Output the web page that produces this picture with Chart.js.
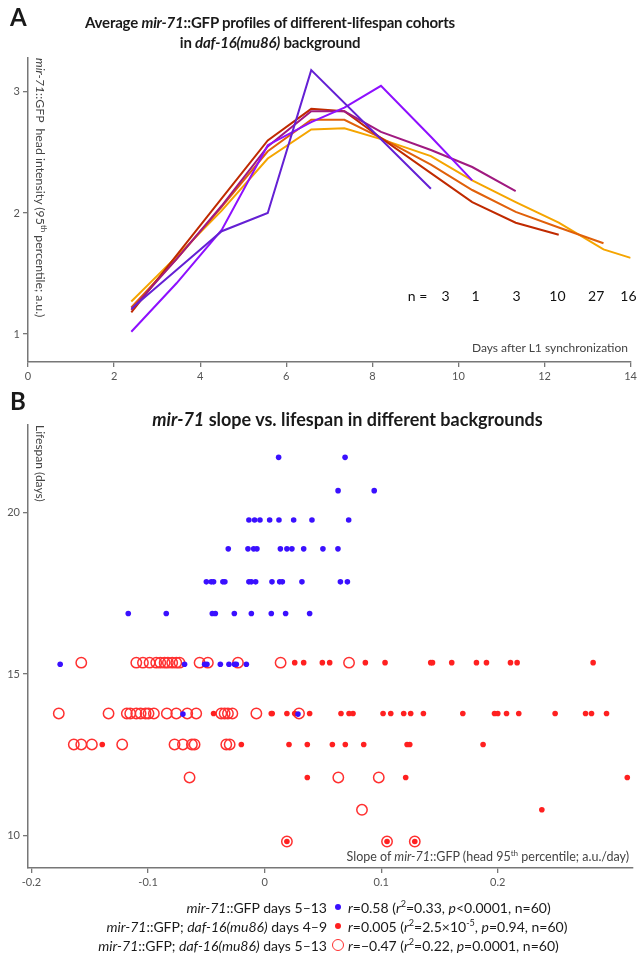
<!DOCTYPE html>
<html>
<head>
<meta charset="utf-8">
<script src="https://cdn.jsdelivr.net/npm/chart.js@4.4.1/dist/chart.umd.min.js"></script>
<style>
  body { margin: 0; width: 640px; height: 958px; background: #fff; position: relative; overflow: hidden; font-family: Lato, "Open Sans", sans-serif; color: #1a1a1a; }
  canvas { position: absolute; left: 0; }
  .t { position: absolute; white-space: nowrap; z-index: 2; }
  .panel { font-weight: 700; font-size: 24px; }
  .title { font-weight: 700; text-align: center; }
  .axt { font-size: 12px; color: #444; }
  .rot { transform: rotate(90deg); transform-origin: left top; }
  sup { font-size: 65%; line-height: 0; }
  .leg { font-size: 14px; line-height: 19px; }
  .legL { text-align: right; }
  .mk { position: absolute; z-index: 2; border-radius: 50%; box-sizing: border-box; }
</style>
</head>
<body>

<div class="t panel" style="left:10px; top:2px;">A</div>
<div class="t title" style="left:70px; width:400px; top:12px; font-size:15px; line-height:20px; letter-spacing:-0.2px;">Average <i>mir-71</i>::GFP profiles of different-lifespan cohorts<br>in <i>daf-16(mu86)</i> background</div>
<div class="t axt rot" style="left:48px; top:58px; font-size:12.3px;"><i>mir-71</i>::GFP&nbsp; head intensity (95<sup>th</sup> percentile; a.u.)</div>
<div class="t axt" style="right:12px; top:340px;">Days after L1 synchronization</div>

<div class="t panel" style="left:10px; top:386px;">B</div>
<div class="t title" style="left:140px; width:415px; top:408px; font-size:18px; line-height:22px;"><i>mir-71</i> slope vs. lifespan in different backgrounds</div>
<div class="t axt rot" style="left:48px; top:425px;">Lifespan (days)</div>
<div class="t axt" style="right:11px; top:849px; font-size:12.5px;">Slope of <i>mir-71</i>::GFP (head 95<sup>th</sup> percentile; a.u./day)</div>

<div class="t leg legL" style="right:313px; top:898px;"><i>mir-71</i>::GFP days 5–13<br><i>mir-71</i>::GFP; <i>daf-16(mu86)</i> days 4–9<br><i>mir-71</i>::GFP; <i>daf-16(mu86)</i> days 5–13</div>
<div class="mk" style="left:335px; top:904px; width:6px; height:6px; background:#3a10ff;"></div>
<div class="mk" style="left:335px; top:923px; width:6px; height:6px; background:#ff2020;"></div>
<div class="mk" style="left:332px; top:939px; width:12px; height:12px; border:1.5px solid #ff3030;"></div>
<div class="t leg" style="left:348px; top:898px;"><i>r</i>=0.58 (<i>r</i><sup>2</sup>=0.33, <i>p</i>&lt;0.0001, n=60)<br><i>r</i>=0.005 (<i>r</i><sup>2</sup>=2.5×10<sup>-5</sup>, <i>p</i>=0.94, n=60)<br><i>r</i>=−0.47 (<i>r</i><sup>2</sup>=0.22, <i>p</i>=0.0001, n=60)</div>

<canvas id="chartA" width="640" height="400" style="top:0;"></canvas>
<canvas id="chartB" width="640" height="510" style="top:390px;"></canvas>

<script>
// ---- Panel A: mean head intensity per lifespan cohort ----
const cohortN = ['3', '1', '3', '10', '27', '16'];
const cohortColors = ['#6420d4', '#8e10ff', '#a01a80', '#c02a00', '#e0600a', '#f5a500'];

const daysC1 = [2.4, 3.45, 4.5, 5.57, 6.58, 9.36];
const gfpC1  = [1.21, 1.53, 1.85, 2.00, 3.18, 2.20];
const daysC2 = [2.4, 3.45, 4.5, 5.57, 6.58, 7.35, 8.2, 9.36, 10.32];
const gfpC2  = [1.02, 1.42, 1.86, 2.56, 2.75, 2.87, 3.05, 2.63, 2.27];
const daysC3 = [2.4, 3.45, 4.5, 5.57, 6.58, 7.35, 8.2, 9.36, 10.32, 11.33];
const gfpC3  = [1.20, 1.62, 2.06, 2.55, 2.84, 2.84, 2.67, 2.52, 2.38, 2.18];
const daysC4 = [2.4, 3.45, 4.5, 5.57, 6.58, 7.35, 8.2, 9.36, 10.32, 11.33, 12.33];
const gfpC4  = [1.18, 1.65, 2.12, 2.60, 2.86, 2.84, 2.62, 2.33, 2.09, 1.92, 1.82];
const daysC5 = [2.4, 3.45, 4.5, 5.57, 6.58, 7.35, 8.2, 9.36, 10.32, 11.33, 12.33, 13.37];
const gfpC5  = [1.22, 1.62, 2.05, 2.51, 2.77, 2.77, 2.62, 2.40, 2.19, 2.01, 1.88, 1.75];
const daysC6 = [2.4, 3.45, 4.5, 5.57, 6.58, 7.35, 8.2, 9.36, 10.32, 11.33, 12.33, 13.37, 14.0];
const gfpC6  = [1.27, 1.64, 2.02, 2.45, 2.69, 2.70, 2.61, 2.47, 2.27, 2.09, 1.92, 1.70, 1.63];

const dayTicks = [0, 2, 4, 6, 8, 10, 12, 14];
const gfpTicks = [1, 2, 3];
const nLabelDays = [9.7, 10.4, 11.35, 12.3, 13.2, 13.95];
const nPrefixDay = 9.05;
const nLabelGfp = 1.31;

// ---- Panel B: slope vs lifespan ----
const blueLifespan = [21.7, 20.67, 19.76, 18.87, 17.85, 16.87, 15.3, 13.76];
const blueSlopes = [
  [0.012, 0.069],
  [0.063, 0.094],
  [-0.0135, -0.0086, -0.004, 0.0043, 0.0123, 0.0249, 0.0406, 0.0721],
  [-0.0312, -0.0143, -0.0094, -0.0066, 0.0135, 0.0191, 0.0234, 0.0335, 0.05, 0.0629],
  [-0.05, -0.0458, -0.0438, -0.0358, -0.0341, -0.0135, -0.0114, -0.0077, 0.0063, 0.0129, 0.0152, 0.032, 0.065, 0.071],
  [-0.117, -0.0844, -0.0449, -0.0423, -0.026, -0.0114, 0.0057, 0.018, 0.0386],
  [-0.1754, -0.0687, -0.0515, -0.0495, -0.038, -0.0306, -0.0258, -0.0243, -0.0157],
  [-0.0701, 0.0286]
];

const redLifespan = [15.35, 13.78, 12.82, 11.8, 10.8, 9.82];
const redSlopes = [
  [0.0258, 0.0335, 0.0495, 0.0558, 0.0864, 0.1033, 0.1425, 0.144, 0.1605, 0.1817, 0.1903, 0.2109, 0.2166, 0.2818],
  [-0.0438, 0.0057, 0.0065, 0.0191, 0.0258, 0.0386, 0.0655, 0.0724, 0.0758, 0.1016, 0.1082, 0.1193, 0.1253, 0.1362, 0.17, 0.1972, 0.2, 0.2075, 0.218, 0.2492, 0.2753, 0.2804, 0.2933],
  [-0.1393, -0.02, 0.0209, 0.0366, 0.0581, 0.0692, 0.085, 0.1222, 0.1245, 0.1874],
  [0.0366, 0.121, 0.3111],
  [0.2378],
  [0.0191, 0.105, 0.1288]
];

const openLifespan = [15.35, 13.78, 12.82, 11.8, 10.8, 9.82];
const openSlopes = [
  [-0.1573, -0.1101, -0.1044, -0.0987, -0.093, -0.0895, -0.0858, -0.083, -0.0793, -0.0758, -0.073, -0.0558, -0.0487, -0.0229, 0.0137, 0.0724],
  [-0.1766, -0.1339, -0.1182, -0.1153, -0.1101, -0.1064, -0.1021, -0.0996, -0.095, -0.0839, -0.0758, -0.0664, -0.0587, -0.0372, -0.0343, -0.0315, -0.0277, -0.0071, 0.0295],
  [-0.1637, -0.1573, -0.1482, -0.1222, -0.0773, -0.0701, -0.0624, -0.0601, -0.0329, -0.03],
  [-0.0644, 0.0632, 0.0979],
  [0.0835],
  [0.0191, 0.105, 0.1288]
];

const slopeTicks = [-0.2, -0.1, 0, 0.1, 0.2];
const slopeTickLabels = ['-0.2', '-0.1', '0', '0.1', '0.2'];
const lifespanTicks = [10, 15, 20];

// helpers
function pairs(xs, ys) { return xs.map((x, i) => ({ x: x, y: ys[i] })); }
function rows(slopes, lifespans) {
  const out = [];
  slopes.forEach((row, i) => row.forEach(s => out.push({ x: s, y: lifespans[i] })));
  return out;
}
const axisColor = '#777';
const tickFont = { family: 'Lato', size: 11 };

function axis(min, max, ticks, fit, labels) {
  return {
    type: 'linear', min: min, max: max,
    afterBuildTicks: s => { s.ticks = ticks.map(v => ({ value: v })); },
    afterFit: fit,
    grid: { drawOnChartArea: false, drawTicks: true, tickLength: 5, color: axisColor, lineWidth: 1.3 },
    border: { color: axisColor, width: 1.5 },
    ticks: {
      color: '#555', font: tickFont, padding: 3, maxRotation: 0, autoSkip: false,
      callback: (v, i) => labels ? labels[i] : String(v)
    }
  };
}

const nLabels = {
  id: 'nLabels',
  afterDatasetsDraw(chart) {
    const { ctx, scales: { x, y } } = chart;
    const py = y.getPixelForValue(nLabelGfp);
    ctx.save();
    ctx.font = '14px Lato';
    ctx.fillStyle = '#111';
    ctx.textAlign = 'center';
    ctx.textBaseline = 'middle';
    ctx.fillText('n =', x.getPixelForValue(nPrefixDay), py);
    cohortN.forEach((n, i) => ctx.fillText(n, x.getPixelForValue(nLabelDays[i]), py));
    ctx.restore();
  }
};

const cohortDays = [daysC1, daysC2, daysC3, daysC4, daysC5, daysC6];
const cohortGfp = [gfpC1, gfpC2, gfpC3, gfpC4, gfpC5, gfpC6];

new Chart(document.getElementById('chartA'), {
  type: 'line',
  data: {
    datasets: cohortDays.map((d, i) => ({
      label: 'n=' + cohortN[i],
      data: pairs(d, cohortGfp[i]),
      borderColor: cohortColors[i],
      borderWidth: 2,
      pointRadius: 0,
      tension: 0,
      fill: false
    }))
  },
  options: {
    responsive: false,
    animation: false,
    layout: { padding: { top: 58, right: 8, left: 0, bottom: 0 } },
    plugins: { legend: { display: false }, tooltip: { enabled: false } },
    scales: {
      x: axis(0, 14, dayTicks, s => { s.height = 38; }),
      y: axis(0.77, 3.28, gfpTicks, s => { s.width = 28; })
    }
  },
  plugins: [nLabels]
});

new Chart(document.getElementById('chartB'), {
  type: 'scatter',
  data: {
    datasets: [
      { label: 'mir-71::GFP days 5-13', data: rows(blueSlopes, blueLifespan),
        pointRadius: 2.8, pointBackgroundColor: '#3a10ff', pointBorderWidth: 0 },
      { label: 'daf-16 days 4-9', data: rows(redSlopes, redLifespan),
        pointRadius: 2.8, pointBackgroundColor: '#ff2020', pointBorderWidth: 0 },
      { label: 'daf-16 days 5-13', data: rows(openSlopes, openLifespan),
        pointRadius: 5.2, pointBackgroundColor: 'rgba(0,0,0,0)', pointBorderColor: '#ff3030', pointBorderWidth: 1.5 }
    ]
  },
  options: {
    responsive: false,
    animation: false,
    layout: { padding: { top: 35, right: 7, left: 0, bottom: 0 } },
    plugins: { legend: { display: false }, tooltip: { enabled: false } },
    scales: {
      x: axis(-0.203, 0.316, slopeTicks, s => { s.height = 32; }, slopeTickLabels),
      y: axis(9, 22.7, lifespanTicks, s => { s.width = 28; })
    }
  }
});
</script>
</body>
</html>
